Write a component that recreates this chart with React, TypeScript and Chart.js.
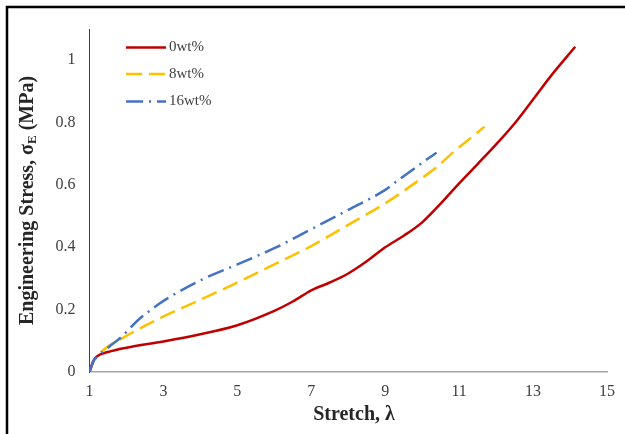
import React, { useEffect, useRef } from "react";
import { Chart, registerables } from "chart.js";

Chart.register(...registerables);

const seriesNames = ["0wt%", "8wt%", "16wt%"];
const seriesColors = ["#C00000", "#FFC000", "#4472C4"];

const redX = [1, 1.05, 1.12, 1.2, 1.5, 2, 3, 4, 5, 6, 6.5, 7, 7.5, 8, 8.5, 9, 9.5, 10, 10.5, 11, 11.5, 12, 12.5, 13, 13.5, 14.14];
const redY = [0, 0.017, 0.038, 0.05, 0.064, 0.078, 0.098, 0.121, 0.15, 0.196, 0.226, 0.262, 0.287, 0.316, 0.355, 0.4, 0.437, 0.48, 0.54, 0.605, 0.667, 0.73, 0.797, 0.874, 0.952, 1.043];

const yellowX = [1, 1.1, 1.2, 1.32, 2, 3, 4, 5, 6, 7, 8, 9, 9.9, 10.39, 10.89, 11.33, 11.69];
const yellowY = [0, 0.035, 0.048, 0.065, 0.116, 0.178, 0.232, 0.287, 0.345, 0.404, 0.472, 0.541, 0.614, 0.657, 0.71, 0.752, 0.787];

const blueX = [1, 1.1, 1.2, 1.5, 1.86, 2.31, 2.75, 3, 4, 5, 6, 7, 8, 9, 9.36, 9.9, 10.21, 10.39];
const blueY = [0, 0.035, 0.048, 0.078, 0.112, 0.166, 0.207, 0.228, 0.294, 0.345, 0.397, 0.458, 0.52, 0.584, 0.616, 0.662, 0.689, 0.703];

const xTitle = "Stretch, λ";
const yTitleMain = "Engineering Stress, σ";
const yTitleSub = "E";
const yTitleEnd = " (MPa)";

const dashes: number[][] = [[], [16, 7], [17, 6, 2, 6]];

const SERIF = "'Liberation Serif', 'Times New Roman', serif";

function toPoints(xs: number[], ys: number[]) {
  return xs.map((x, i) => ({ x, y: ys[i] }));
}

const decorPlugin = {
  id: "decor",
  afterDraw(chart: any) {
    const ctx = chart.ctx as CanvasRenderingContext2D;
    const area = chart.chartArea;
    ctx.save();
    ctx.strokeStyle = "#000000";
    ctx.lineWidth = 2.5;
    ctx.beginPath();
    ctx.moveTo(7, 440);
    ctx.lineTo(7, 7);
    ctx.lineTo(630, 7);
    ctx.stroke();

    ctx.fillStyle = "#262626";
    ctx.font = `bold 20px ${SERIF}`;
    ctx.textAlign = "center";
    ctx.textBaseline = "middle";
    ctx.fillText(xTitle, 354, 415);

    const cy = (area.top + area.bottom) / 2;
    ctx.translate(28, cy);
    ctx.rotate(-Math.PI / 2);
    const bigFont = `bold 20px ${SERIF}`;
    const smallFont = `bold 13px ${SERIF}`;
    ctx.font = bigFont;
    const w1 = ctx.measureText(yTitleMain).width;
    const w3 = ctx.measureText(yTitleEnd).width;
    ctx.font = smallFont;
    const w2 = ctx.measureText(yTitleSub).width;
    const total = w1 + w2 + w3;
    let x0 = -total / 2;
    ctx.textAlign = "left";
    ctx.textBaseline = "middle";
    ctx.font = bigFont;
    ctx.fillText(yTitleMain, x0, 0);
    x0 += w1;
    ctx.font = smallFont;
    ctx.fillText(yTitleSub, x0, 5);
    x0 += w2;
    ctx.font = bigFont;
    ctx.fillText(yTitleEnd, x0, 0);
    ctx.restore();

    ctx.save();
    const rows = [47.5, 74, 101.5];
    seriesNames.forEach((name, i) => {
      ctx.strokeStyle = seriesColors[i];
      ctx.lineWidth = 2.5;
      ctx.setLineDash(dashes[i]);
      ctx.beginPath();
      ctx.moveTo(126, rows[i]);
      ctx.lineTo(166, rows[i]);
      ctx.stroke();
      ctx.setLineDash([]);
      ctx.fillStyle = "#404040";
      ctx.font = `15px ${SERIF}`;
      ctx.textAlign = "left";
      ctx.textBaseline = "middle";
      ctx.fillText(name, 169, rows[i]);
    });
    ctx.restore();
  },
};

export default function App() {
  const ref = useRef<HTMLCanvasElement | null>(null);
  useEffect(() => {
    if (!ref.current) return;
    const datasets = [
      { data: toPoints(redX, redY), order: 1 },
      { data: toPoints(yellowX, yellowY), order: 2 },
      { data: toPoints(blueX, blueY), order: 0 },
    ].map((d, i) => ({
      label: seriesNames[i],
      data: d.data,
      order: d.order,
      borderColor: seriesColors[i],
      backgroundColor: seriesColors[i],
      borderWidth: 2.5,
      borderDash: dashes[i],
      pointRadius: 0,
      fill: false,
      cubicInterpolationMode: "monotone" as const,
    }));
    const chart = new Chart(ref.current, {
      type: "line",
      data: { datasets },
      options: {
        responsive: false,
        animation: false,
        layout: { padding: { top: 29, right: 15.5, left: 0, bottom: 0 } },
        plugins: {
          legend: { display: false },
          tooltip: { enabled: false },
          title: { display: false },
        },
        scales: {
          x: {
            type: "linear",
            min: 1,
            max: 15,
            grid: { display: false, drawTicks: false },
            border: { display: true, color: "#a6a6a6", width: 1.5 },
            ticks: {
              stepSize: 2,
              padding: 10,
              color: "#404040",
              font: { family: SERIF, size: 16 },
              maxRotation: 0,
            },
            afterFit: (s: any) => {
              s.height = 434 - 372;
            },
          },
          y: {
            type: "linear",
            min: 0,
            max: 1.1,
            grid: { display: false, drawTicks: false },
            border: { display: true, color: "#404040", width: 1 },
            ticks: {
              stepSize: 0.2,
              padding: 14,
              color: "#404040",
              font: { family: SERIF, size: 16 },
              callback: (v: any) => {
                const n = Number(v);
                if (Math.abs(n * 5 - Math.round(n * 5)) > 1e-6) return "";
                return String(Math.round(n * 10) / 10);
              },
            },
            afterFit: (s: any) => {
              s.width = 89.5;
            },
          },
        },
      },
      plugins: [decorPlugin],
    });
    return () => chart.destroy();
  }, []);
  return (
    <div style={{ position: "absolute", left: 0, top: 0, width: 625, height: 434, background: "#fff" }}>
      <canvas ref={ref} width={625} height={434} style={{ display: "block" }} />
    </div>
  );
}
